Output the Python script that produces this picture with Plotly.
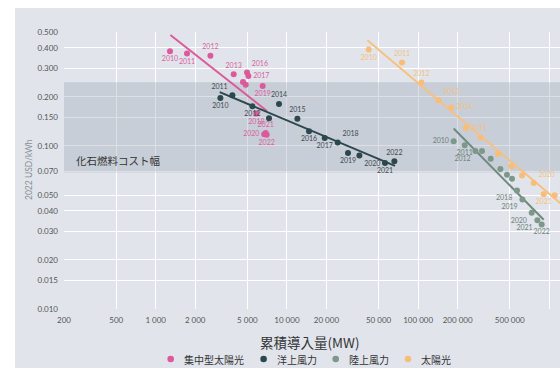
import math
import plotly.graph_objects as go

# ---- data -------------------------------------------------------------
years = list(range(2010, 2023))

# 集中型太陽光 (CSP)
csp_mw = [1285, 1732, 2612, 3930, 4626, 4852, 4964, 5088, 5856, 6538, 6714, 6890, 7015]
csp_lcoe = [0.381, 0.369, 0.358, 0.275, 0.247, 0.237, 0.282, 0.269, 0.158, 0.233, 0.118, 0.120, 0.117]
csp_trend_mw = [1294, 7052]
csp_trend_lcoe = [0.479, 0.164]
csp_labelled = [2010, 2011, 2012, 2013, 2016, 2017, 2018, 2019, 2020, 2021, 2022]

# 洋上風力 (offshore wind)
offshore_mw = [3112, 3842, 5458, 7304, 8704, 12020, 14740, 19410, 24380, 29220, 35690, 55930, 65920]
offshore_lcoe = [0.197, 0.205, 0.175, 0.148, 0.181, 0.147, 0.123, 0.112, 0.105, 0.0905, 0.0873, 0.0786, 0.0805]
offshore_trend_mw = [3075, 66660]
offshore_trend_lcoe = [0.214, 0.0754]
offshore_labelled = [2010, 2011, 2012, 2014, 2015, 2016, 2017, 2018, 2019, 2020, 2021, 2022]

# 陸上風力 (onshore wind)
onshore_mw = [186700, 226500, 273400, 307000, 357400, 423800, 475800, 519600, 567300, 623800, 734200, 811200, 875000]
onshore_lcoe = [0.107, 0.101, 0.0931, 0.093, 0.0836, 0.0722, 0.0667, 0.063, 0.0534, 0.047, 0.039, 0.035, 0.033]
onshore_trend_mw = [186700, 906000]
onshore_trend_lcoe = [0.128, 0.0353]
onshore_labelled = [2010, 2011, 2012, 2018, 2019, 2020, 2021, 2022]

# 太陽光 (solar PV)
pv_mw = [42020, 75380, 105900, 142800, 179400, 230600, 300000, 406400, 514000, 619400, 760400, 906000, 1099000]
pv_lcoe = [0.390, 0.325, 0.245, 0.191, 0.172, 0.129, 0.1125, 0.0897, 0.075, 0.066, 0.0592, 0.0505, 0.0498]
pv_trend_mw = [41060, 1310000]
pv_trend_lcoe = [0.445, 0.0423]
pv_labelled = [2010, 2011, 2012, 2013, 2014, 2015, 2020, 2021, 2022]

# fossil fuel cost range (USD/kWh)
fossil_range = [0.0688, 0.2456]

x_ticks = [200, 500, 1000, 2000, 5000, 10000, 20000, 50000, 100000, 200000, 500000, 1000000]
x_ticklabels = ["200", "500", "1 000", "2 000", "5 000", "10 000", "20 000", "50 000",
                "100 000", "200 000", "500 000", "1 000 000"]
y_ticks = [0.01, 0.015, 0.02, 0.03, 0.04, 0.05, 0.07, 0.1, 0.15, 0.2, 0.3, 0.4, 0.5]
y_ticklabels = ["0.010", "0.015", "0.020", "0.030", "0.040", "0.050", "0.070",
                "0.100", "0.150", "0.200", "0.300", "0.400", "0.500"]

# ---- styling ----------------------------------------------------------
FONT = "Lato"
CJK = "Noto Sans CJK JP"
PANEL = "#e1e5eb"

# plot-area geometry (px) used for paper-coordinate placement
W, H = 560, 371
ML, MR, MT, MB = 64, 0, 32, 62
PW, PH = W - ML - MR, H - MT - MB
X_RANGE = [math.log10(200), math.log10(200) + PW / 131.2]
Y_RANGE = [math.log10(0.01), math.log10(0.5)]


def px_x(px):
    return (px - ML) / PW


def px_y(py):
    return (H - MB - py) / PH


series = [
    dict(name="集中型太陽光", mw=csp_mw, lcoe=csp_lcoe, tmw=csp_trend_mw, tl=csp_trend_lcoe,
         labelled=csp_labelled, color="#dc5a9c", line="#dc5a9c", label_color="#d9609f",
         pos={2010: "bottom center", 2011: "bottom center", 2012: "top center",
              2013: "top center", 2016: "top right", 2017: "middle right",
              2018: "bottom center", 2019: "bottom center", 2020: "middle left",
              2021: "top center", 2022: "bottom center"}),
    dict(name="洋上風力", mw=offshore_mw, lcoe=offshore_lcoe, tmw=offshore_trend_mw,
         tl=offshore_trend_lcoe, labelled=offshore_labelled, color="#2c474d", line="#2c474d",
         label_color="#3d4a50",
         pos={2010: "bottom center", 2011: "top left", 2012: "bottom center",
              2014: "top center", 2015: "top center", 2016: "bottom center",
              2017: "bottom center", 2018: "top right", 2019: "bottom center",
              2020: "bottom right", 2021: "bottom center", 2022: "top center"}),
    dict(name="陸上風力", mw=onshore_mw, lcoe=onshore_lcoe, tmw=onshore_trend_mw,
         tl=onshore_trend_lcoe, labelled=onshore_labelled, color="#7d978b", line="#6f8b7e",
         label_color="#6f7f79",
         pos={2010: "middle left", 2011: "bottom center", 2012: "bottom left",
              2018: "bottom left", 2019: "bottom left", 2020: "bottom left",
              2021: "bottom left", 2022: "bottom center"}),
    dict(name="太陽光", mw=pv_mw, lcoe=pv_lcoe, tmw=pv_trend_mw, tl=pv_trend_lcoe,
         labelled=pv_labelled, color="#f8bd78", line="#f8c080", label_color="#f4bf82",
         pos={2010: "bottom center", 2011: "top center", 2012: "top center",
              2013: "top right", 2014: "middle right", 2015: "middle right",
              2020: "top right", 2021: "bottom center", 2022: "top right"}),
]

fig = go.Figure()

# fossil fuel cost band spanning the full x range, drawn over the grid
band_x = [10 ** X_RANGE[0], 10 ** X_RANGE[1]]
fig.add_trace(go.Scatter(
    x=[band_x[0], band_x[1], band_x[1], band_x[0], band_x[0]],
    y=[fossil_range[0], fossil_range[0], fossil_range[1], fossil_range[1], fossil_range[0]],
    mode="lines", fill="toself", fillcolor="rgba(150,160,175,0.33)",
    line=dict(width=0), hoverinfo="skip", showlegend=False))

for s in series:
    fig.add_trace(go.Scatter(
        x=s["tmw"], y=s["tl"], mode="lines",
        line=dict(color=s["line"], width=2), hoverinfo="skip", showlegend=False))
for s in series:
    text = [str(y) if y in s["labelled"] else "" for y in years]
    tpos = [s["pos"].get(y, "top center") for y in years]
    fig.add_trace(go.Scatter(
        x=s["mw"], y=s["lcoe"], mode="markers+text", name=s["name"],
        marker=dict(color=s["color"], size=6),
        text=text, textposition=tpos,
        textfont=dict(family=FONT, size=7, color=s["label_color"]),
        showlegend=False))

shapes = [
    # chart panel
    dict(type="rect", xref="paper", yref="paper",
         x0=px_x(15), x1=px_x(W + 5), y0=px_y(368), y1=px_y(8),
         fillcolor=PANEL, line=dict(width=0), layer="below"),
]

annotations = [
    dict(text="化石燃料コスト幅", xref="paper", yref="paper", x=px_x(74), y=px_y(160),
         xanchor="left", yanchor="middle", showarrow=False,
         font=dict(family=CJK, size=10.5, color="#333333")),
    dict(text="累積導入量(MW)", xref="paper", yref="paper", x=px_x(309), y=px_y(342),
         xanchor="center", yanchor="middle", showarrow=False,
         font=dict(family=CJK, size=13.5, color="#333333")),
    dict(text="2022 USD/kWh", xref="paper", yref="paper", x=px_x(29), y=px_y(170),
         xanchor="center", yanchor="middle", textangle=-90, showarrow=False,
         font=dict(family=FONT, size=8.5, color="#8a9099")),
]

# legend row
legend_dots_px = [170.7, 263.6, 335.7, 408]
for s, dx in zip(series, legend_dots_px):
    shapes.append(dict(type="circle", xref="paper", yref="paper",
                       xsizemode="pixel", ysizemode="pixel",
                       xanchor=px_x(dx), yanchor=px_y(359),
                       x0=-3.3, x1=3.3, y0=-3.3, y1=3.3,
                       fillcolor=s["color"], line=dict(width=0)))
    annotations.append(dict(text=s["name"], xref="paper", yref="paper",
                            x=px_x(dx), xshift=11, y=px_y(359),
                            xanchor="left", yanchor="middle", showarrow=False,
                            font=dict(family=CJK, size=10, color="#333333")))

fig.update_layout(
    template="none",
    width=W, height=H,
    margin=dict(l=ML, r=MR, t=MT, b=MB, pad=0),
    paper_bgcolor="white",
    plot_bgcolor="rgba(0,0,0,0)",
    font=dict(family=FONT, size=8, color="#555555"),
    showlegend=False,
    shapes=shapes,
    annotations=annotations,
    xaxis=dict(type="log", range=X_RANGE,
               tickvals=x_ticks, ticktext=x_ticklabels, ticks="",
               showgrid=True, gridcolor="white", gridwidth=1,
               showline=False, zeroline=False, automargin=False,
               ticklabelstandoff=5,
               tickfont=dict(family=FONT, size=8, color="#555555")),
    yaxis=dict(type="log", range=Y_RANGE,
               tickvals=y_ticks, ticktext=y_ticklabels, ticks="",
               showgrid=True, gridcolor="white", gridwidth=1,
               showline=False, zeroline=False, automargin=False,
               ticklabelstandoff=5,
               tickfont=dict(family=FONT, size=8, color="#555555")),
)

fig.write_html("out.html")
